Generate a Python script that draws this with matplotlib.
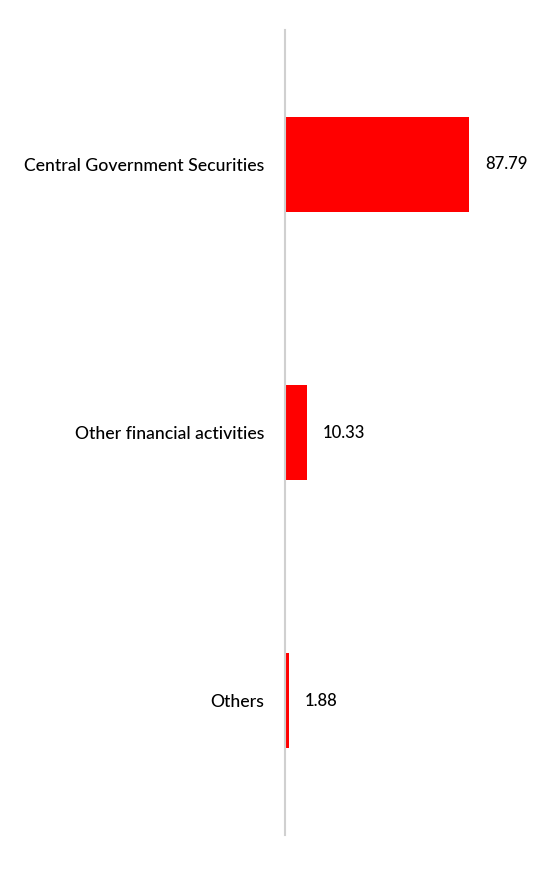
import matplotlib
matplotlib.use('Agg')
from matplotlib import pyplot as plt

categories = ['Central Government Securities', 'Other financial activities', 'Others']
values = [87.79, 10.33, 1.88]

plt.rcParams['font.family'] = ['Lato', 'DejaVu Sans']

fig = plt.figure(figsize=(5.56, 8.69), dpi=100)
# axes placed so the category line sits at x=285px
ax = fig.add_axes([285 / 556, 1 - 835 / 869, 209.6 / 556, 805 / 869])

pos = list(range(len(categories)))
ax.barh(pos, values, height=0.353, color='#ff0000')
ax.set_xlim(0, 100)
ax.set_ylim(2.5, -0.5)

for p, v in zip(pos, values):
    ax.annotate(f'{v:.2f}', xy=(v, p), xytext=(11.5, 0), textcoords='offset points',
                va='center', ha='left', fontsize=12, color='#000000', fontweight='medium')

ax.set_yticks(pos)
ax.set_yticklabels(categories, fontsize=12.7, color='#000000', fontweight='medium')
ax.tick_params(axis='y', length=0, pad=15)
ax.set_xticks([])

for s in ['top', 'right', 'bottom']:
    ax.spines[s].set_visible(False)
ax.spines['left'].set_color('#d0d0d0')
ax.spines['left'].set_linewidth(1.5)

fig.savefig('out.png', dpi=100)
